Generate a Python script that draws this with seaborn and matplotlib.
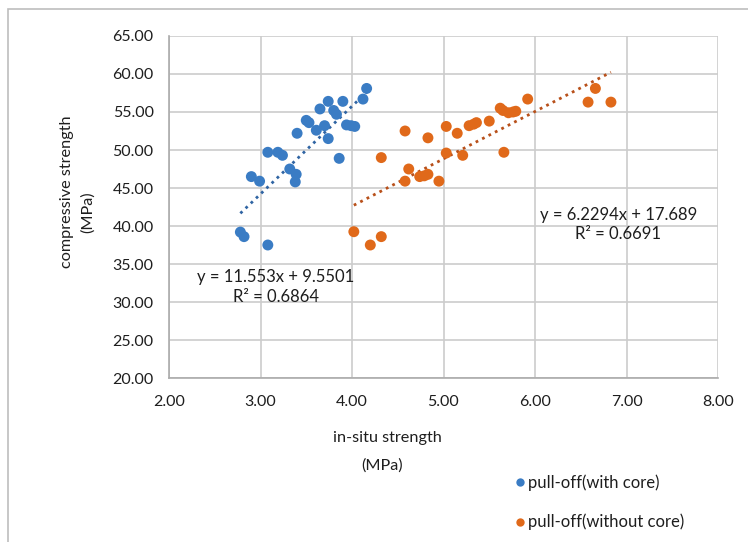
import numpy as np
import pandas as pd
import matplotlib
matplotlib.use("Agg")
import matplotlib.pyplot as plt
from matplotlib.patches import Rectangle
from matplotlib.lines import Line2D
import seaborn as sns

# ---- data ----
with_core_x = [4.16, 4.12, 3.74, 3.90, 3.65, 3.80, 3.83, 3.50, 3.53, 3.94, 3.99, 4.03,
               3.70, 3.61, 3.40, 3.74, 3.08, 3.19, 3.24, 3.86, 3.32, 3.39, 3.38,
               2.90, 2.99, 2.78, 2.82, 3.08]
with_core_y = [58.1, 56.7, 56.4, 56.4, 55.4, 55.2, 54.7, 53.9, 53.6, 53.3, 53.2, 53.1,
               53.2, 52.6, 52.2, 51.5, 49.7, 49.7, 49.3, 48.9, 47.5, 46.8, 45.8,
               46.5, 45.9, 39.2, 38.6, 37.5]
without_core_x = [6.66, 6.58, 6.83, 5.92, 5.62, 5.65, 5.71, 5.76, 5.79, 5.50, 5.36, 5.33,
                  5.28, 5.03, 5.15, 4.58, 4.83, 5.03, 5.21, 5.66, 4.32, 4.62, 4.58,
                  4.74, 4.79, 4.83, 4.95, 4.02, 4.20, 4.32]
without_core_y = [58.1, 56.3, 56.3, 56.7, 55.5, 55.2, 54.9, 55.0, 55.1, 53.8, 53.6, 53.4,
                  53.2, 53.1, 52.2, 52.5, 51.6, 49.6, 49.3, 49.7, 49.0, 47.5, 45.9,
                  46.5, 46.6, 46.8, 45.9, 39.25, 37.5, 38.6]
series_names = ["pull-off(with core)", "pull-off(without core)"]
trend_slope = [11.553, 6.2294]
trend_intercept = [9.5501, 17.689]
trend_r2 = ["0.6864", "0.6691"]
x_ticks = [2, 3, 4, 5, 6, 7, 8]
y_ticks = [20, 25, 30, 35, 40, 45, 50, 55, 60, 65]

colors = ["#3A7CC4", "#E0691A"]
line_colors = ["#2F64A3", "#B8501A"]
txt = "#1E1E1E"

df = pd.DataFrame({
    "x": with_core_x + without_core_x,
    "y": with_core_y + without_core_y,
    "series": [series_names[0]] * len(with_core_x) + [series_names[1]] * len(without_core_x),
})

sns.set_theme(style="white")
plt.rcParams["font.family"] = ["Lato", "DejaVu Sans"]

W, H = 748, 542
fig = plt.figure(figsize=(W / 100, H / 100), dpi=100)
ax = fig.add_axes([169 / W, 1 - 378 / H, (718 - 169) / W, (378 - 36) / H])

sns.scatterplot(data=df, x="x", y="y", hue="series", palette=colors, s=62,
                edgecolor="none", legend=False, ax=ax, zorder=3)

for i, xs in enumerate([with_core_x, without_core_x]):
    xr = np.array([min(xs), max(xs)])
    ax.plot(xr, trend_slope[i] * xr + trend_intercept[i], linestyle=(0, (1, 1.6)),
            color=line_colors[i], lw=2.0, zorder=2)

ax.set_xlim(2, 8)
ax.set_ylim(20, 65)
ax.set_xticks(x_ticks)
ax.set_yticks(y_ticks)
ax.set_xticklabels([f"{v:.2f}" for v in x_ticks])
ax.set_yticklabels([f"{v:.2f}" for v in y_ticks])
ax.tick_params(axis="both", labelsize=11.5, colors=txt, length=0)
ax.tick_params(axis="y", pad=11)
ax.tick_params(axis="x", pad=12)
ax.grid(True, color="#CCCCCC", lw=1.2)
ax.set_axisbelow(True)
for side in ["top", "right"]:
    ax.spines[side].set_visible(False)
for side in ["left", "bottom"]:
    ax.spines[side].set_color("#ABABAB")
    ax.spines[side].set_linewidth(1.2)
ax.set_xlabel("")
ax.set_ylabel("")

# equations
ax.text(3.17, 32.0, f"y = {trend_slope[0]}x + {trend_intercept[0]}\nR² = {trend_r2[0]}",
        ha="center", va="center", fontsize=12, color=txt, linespacing=1.3, zorder=4)
ax.text(6.91, 40.2, f"y = {trend_slope[1]}x + {trend_intercept[1]}\nR² = {trend_r2[1]}",
        ha="center", va="center", fontsize=12, color=txt, linespacing=1.3, zorder=4)

# axis titles
fig.text(387 / W, 1 - 438 / H, "in-situ strength", ha="center", va="center",
         fontsize=11.7, color=txt)
fig.text(382 / W, 1 - 466 / H, "(MPa)", ha="center", va="center",
         fontsize=11.7, color=txt)
fig.text(67 / W, 1 - 192 / H, "compressive strength", ha="center", va="center",
         rotation=90, fontsize=11.7, color=txt)
fig.text(88 / W, 1 - 212 / H, "(MPa)", ha="center", va="center",
         rotation=90, fontsize=11.7, color=txt)

# legend
handles = [Line2D([0], [0], marker="o", linestyle="none", markersize=6,
                  markerfacecolor=c, markeredgecolor="none") for c in colors]
fig.legend(handles, series_names, loc="upper left", bbox_to_anchor=(503 / W, 1 - 466 / H),
           frameon=False, fontsize=12, handletextpad=0.0, labelspacing=1.38,
           handlelength=1.0, borderpad=0, labelcolor=txt)

# outer border
fig.patches.append(Rectangle((8 / W, -0.1), 1.2, 1 - 9 / H + 0.1, transform=fig.transFigure,
                             fill=False, edgecolor="#BDBDBD", lw=1.2))

fig.savefig("out.png", dpi=100)
